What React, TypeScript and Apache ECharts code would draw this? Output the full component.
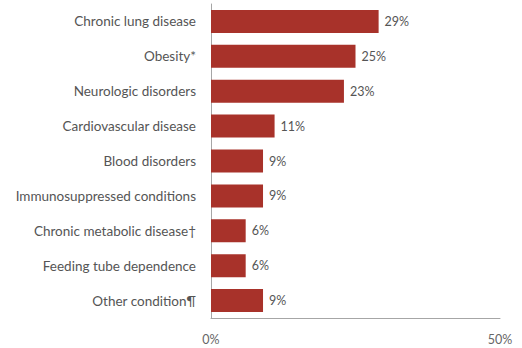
import React, { useEffect, useRef } from "react";
import * as echarts from "echarts";

const categories = [
  "Chronic lung disease",
  "Obesity*",
  "Neurologic disorders",
  "Cardiovascular disease",
  "Blood disorders",
  "Immunosuppressed conditions",
  "Chronic metabolic disease†",
  "Feeding tube dependence",
  "Other condition¶",
];
const values = [29, 25, 23, 11, 9, 9, 6, 6, 9];
const xTicks = [0, 50];

export default function App() {
  const ref = useRef<HTMLDivElement>(null);
  useEffect(() => {
    if (!ref.current) return;
    const chart = echarts.init(ref.current, null, { renderer: "svg" });
    const font = "Lato";
    chart.setOption({
      animation: false,
      backgroundColor: "#ffffff",
      grid: { left: 211, right: 22, top: 4, bottom: 30, containLabel: false },
      xAxis: {
        type: "value",
        min: xTicks[0],
        max: xTicks[1],
        interval: 50,
        axisLine: { show: true, lineStyle: { color: "#a6a6a6", width: 1 } },
        axisTick: { show: false },
        splitLine: { show: false },
        axisLabel: {
          formatter: "{value}%",
          color: "#666666",
          fontFamily: font,
          fontSize: 12.5,
          margin: 15,
        },
      },
      yAxis: {
        type: "category",
        data: categories,
        inverse: true,
        axisLine: { show: true, lineStyle: { color: "#a6a6a6", width: 1 } },
        axisTick: { show: false },
        axisLabel: {
          color: "#555555",
          fontFamily: font,
          fontSize: 13.5,
          margin: 15,
        },
      },
      series: [
        {
          type: "bar",
          data: values,
          barCategoryGap: "34%",
          itemStyle: { color: "#a8322a" },
          label: {
            show: true,
            position: "right",
            distance: 6,
            formatter: "{c}%",
            color: "#555555",
            fontFamily: font,
            fontSize: 12.5,
          },
        },
      ],
    });
    return () => chart.dispose();
  }, []);
  return <div ref={ref} style={{ width: 522, height: 348, position: "absolute", left: 0, top: 0 }} />;
}
